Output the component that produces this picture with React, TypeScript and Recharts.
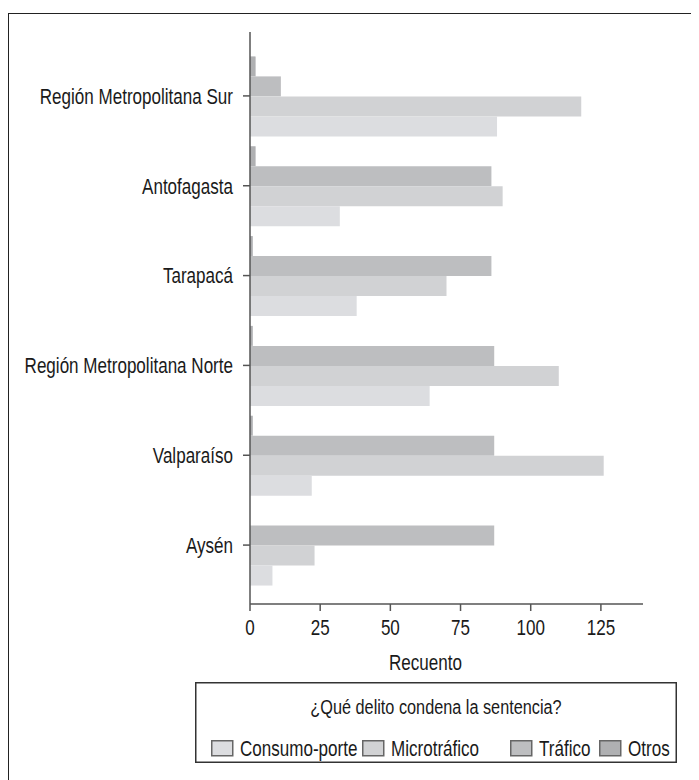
import React from 'react';
import { BarChart, Bar, XAxis, YAxis, Legend } from 'recharts';

const regions = [
  'Región Metropolitana Sur',
  'Antofagasta',
  'Tarapacá',
  'Región Metropolitana Norte',
  'Valparaíso',
  'Aysén',
];
const consumoPorte = [88, 32, 38, 64, 22, 8];
const microtrafico = [118, 90, 70, 110, 126, 23];
const trafico = [11, 86, 86, 87, 87, 87];
const otros = [2, 2, 1, 1, 1, 0];
const xTicks = [0, 25, 50, 75, 100, 125];
const xDomainMax = 140;
const xAxisTitle = 'Recuento';
const legendTitle = '¿Qué delito condena la sentencia?';

const series = [
  { key: 'consumo', name: 'Consumo-porte', color: '#dcdde0' },
  { key: 'micro', name: 'Microtráfico', color: '#d1d2d4' },
  { key: 'trafico', name: 'Tráfico', color: '#bdbec0' },
  { key: 'otros', name: 'Otros', color: '#afb0b2' },
];

const data = regions.map((r, i) => ({
  name: r,
  consumo: consumoPorte[i],
  micro: microtrafico[i],
  trafico: trafico[i],
  otros: otros[i],
}));

const FONT = '"Liberation Sans", Arial, sans-serif';
const SX = 0.775;
const FS = 22;
const AXIS = '#555';
const TXT = '#1a1a1a';

const YTick = (props: any) => {
  const { x, y, payload } = props;
  return (
    <g transform={`translate(${x},${y}) scale(${SX},1)`}>
      <text textAnchor="end" dy="0.355em" fontSize={FS} fill={TXT} fontFamily={FONT}>
        {payload.value}
      </text>
    </g>
  );
};

const XTick = (props: any) => {
  const { x, y, payload } = props;
  return (
    <g transform={`translate(${x},${y}) scale(${SX},1)`}>
      <text textAnchor="middle" dy="0.71em" fontSize={FS} fill={TXT} fontFamily={FONT}>
        {payload.value}
      </text>
    </g>
  );
};

const AxisTitle = (props: any) => {
  const vb = props.viewBox || {};
  const cx = vb.x + (vb.width * (xTicks[xTicks.length - 1] / xDomainMax)) / 2;
  return (
    <g transform={`translate(${cx},${vb.y + 66}) scale(${SX},1)`}>
      <text textAnchor="middle" fontSize={FS} fill={TXT} fontFamily={FONT}>
        {xAxisTitle}
      </text>
    </g>
  );
};

const legendItemX = [16, 167, 315, 404];

const LegendBox = () => (
  <svg width={482} height={81} style={{ display: 'block' }}>
    <rect x={0.75} y={0.75} width={480.5} height={79.5} fill="#fff" stroke="#333" strokeWidth={1.5} />
    <g transform={`translate(241,32) scale(${SX},1)`}>
      <text textAnchor="middle" fontSize={FS - 1} fill={TXT} fontFamily={FONT}>
        {legendTitle}
      </text>
    </g>
    {series.map((s, i) => (
      <g key={s.key}>
        <rect x={legendItemX[i] + 0.75} y={58.75} width={21} height={15} fill={s.color} stroke="#666" strokeWidth={1.5} />
        <g transform={`translate(${legendItemX[i] + 29},74) scale(${SX},1)`}>
          <text fontSize={FS} fill={TXT} fontFamily={FONT}>
            {s.name}
          </text>
        </g>
      </g>
    ))}
  </svg>
);

export default function App() {
  return (
    <div style={{ position: 'relative', width: 691, height: 772, fontFamily: FONT }}>
      <div
        style={{
          position: 'absolute',
          left: 0,
          top: 5,
          width: 691,
          height: 767,
          boxSizing: 'border-box',
          borderTop: '1.5px solid #222',
          borderLeft: '1.5px solid #222',
        }}
      />
      <div style={{ position: 'absolute', left: 0, top: 0 }}>
        <BarChart
          width={691}
          height={772}
          data={data}
          layout="vertical"
          margin={{ top: 24, right: 56, left: 0, bottom: 96 }}
          barCategoryGap="6%"
          barGap={0}
        >
          <XAxis
            type="number"
            domain={[0, xDomainMax]}
            ticks={xTicks}
            allowDataOverflow
            height={80}
            axisLine={{ stroke: AXIS, strokeWidth: 1.5 }}
            tickLine={{ stroke: AXIS, strokeWidth: 1.5 }}
            tickSize={7}
            tickMargin={8}
            tick={(p: any) => <XTick {...p} />}
            label={<AxisTitle />}
          />
          <YAxis
            type="category"
            dataKey="name"
            width={242}
            padding={{ top: 19, bottom: 14 }}
            axisLine={{ stroke: AXIS, strokeWidth: 1.5 }}
            tickLine={{ stroke: AXIS, strokeWidth: 1.5 }}
            tickSize={7}
            tickMargin={10}
            interval={0}
            tick={(p: any) => <YTick {...p} />}
          />
          <Legend
            layout="horizontal"
            verticalAlign="middle"
            align="center"
            content={() => <LegendBox />}
            wrapperStyle={{ position: 'absolute', left: 187, top: 674, width: 482, height: 81 }}
          />
          <Bar dataKey="otros" name="Otros" fill={series[3].color} isAnimationActive={false} />
          <Bar dataKey="trafico" name="Tráfico" fill={series[2].color} isAnimationActive={false} />
          <Bar dataKey="micro" name="Microtráfico" fill={series[1].color} isAnimationActive={false} />
          <Bar dataKey="consumo" name="Consumo-porte" fill={series[0].color} isAnimationActive={false} />
        </BarChart>
      </div>
    </div>
  );
}
